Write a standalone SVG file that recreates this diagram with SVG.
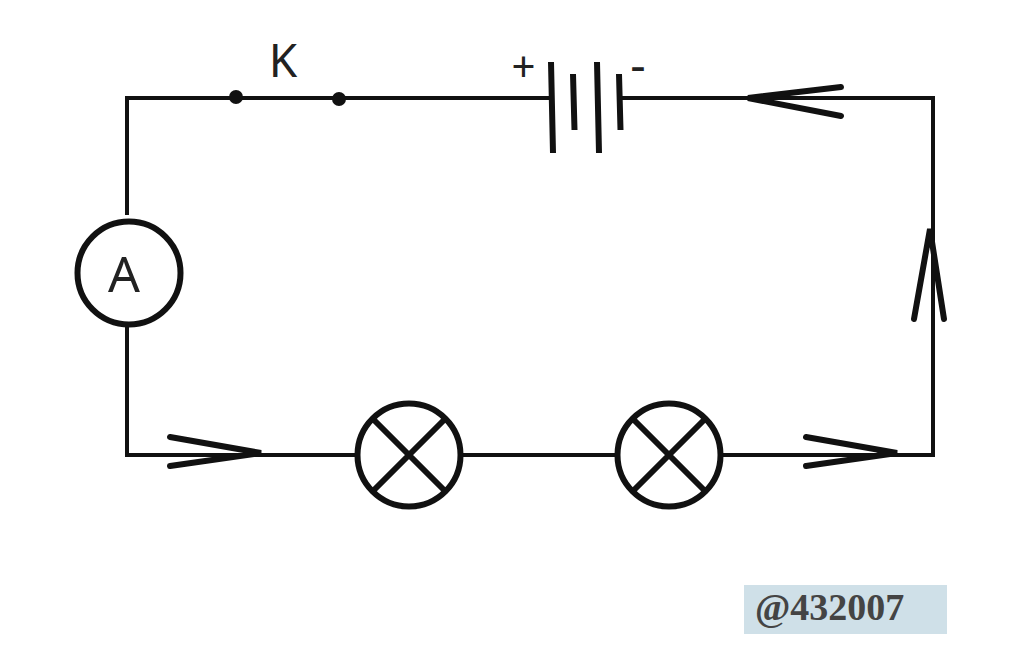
<svg xmlns="http://www.w3.org/2000/svg" width="1024" height="667" viewBox="0 0 1024 667">
<style>
.w{fill:none;stroke:#111;stroke-width:4}
.c{fill:#fff;stroke:#111;stroke-width:6}
.a{fill:none;stroke:#111;stroke-width:6;stroke-linecap:round;stroke-linejoin:miter}
.b{fill:none;stroke:#111;stroke-width:6}
.t{font-family:"Noto Sans","DejaVu Sans",sans-serif;fill:#222}
</style>
<rect width="1024" height="667" fill="#fff"/>
<g id="connectors">
<path class="w" d="M127 215V98H552M621 98H933V455H127V326"/>
<path class="a" d="M841 87L748 98L841 116"/>
<path class="a" d="M914 319L930 229L944 319"/>
<path class="a" d="M170 437L261 453L170 466"/>
<path class="a" d="M806 437L897 453L806 466"/>
</g>
<g id="switch"><circle cx="236" cy="97" r="7" fill="#111"/><circle cx="339" cy="99" r="7" fill="#111"/><text class="t" x="283" y="77" font-size="46" text-anchor="middle">K</text></g>
<g id="battery">
<path class="b" d="M551 62L553 153M573 74L574.500 130M597 62L599 153M619 74L620.500 130"/>
<text class="t" x="523.500" y="82" font-size="42" text-anchor="middle">+</text>
<text class="t" x="638" y="82" font-size="48" text-anchor="middle">-</text>
</g>
<g id="ammeter"><circle class="c" cx="129" cy="273" r="51.500"/><text class="t" x="124" y="292" font-size="50" text-anchor="middle">A</text></g>
<g id="lamp1"><circle class="c" cx="409" cy="455" r="51.500"/><path class="b" d="M374 420L444 490M444 420L374 490"/></g>
<g id="lamp2"><circle class="c" cx="669" cy="455" r="51.500"/><path class="b" d="M634 420L704 490M704 420L634 490"/></g>
<g id="watermark"><rect x="744" y="585" width="203" height="49" fill="#cfe0e8"/><text x="755" y="620" font-family="'Liberation Serif',serif" font-size="38" font-weight="bold" fill="#444">@432007</text></g>
</svg>
